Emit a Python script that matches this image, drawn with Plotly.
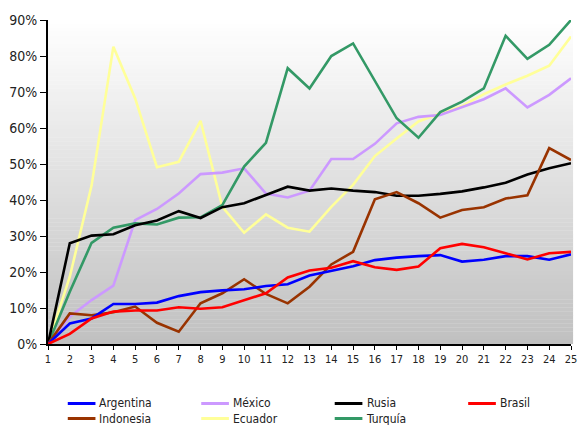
import plotly.graph_objects as go

# Periods on the horizontal axis
periods = list(range(1, 26))

# Series values (share, 0-1)
argentina = [0.0, 0.057, 0.071, 0.111, 0.111, 0.115, 0.133, 0.144, 0.149, 0.152, 0.161, 0.166,
             0.190, 0.202, 0.216, 0.233, 0.240, 0.244, 0.247, 0.229, 0.234, 0.244, 0.244, 0.234, 0.249]
mexico = [0.0, 0.076, 0.122, 0.162, 0.344, 0.375, 0.418, 0.472, 0.476, 0.488, 0.418, 0.407,
          0.426, 0.514, 0.514, 0.556, 0.613, 0.631, 0.636, 0.657, 0.680, 0.710, 0.657, 0.692, 0.738]
rusia = [0.0, 0.280, 0.301, 0.305, 0.330, 0.343, 0.369, 0.350, 0.380, 0.391, 0.414, 0.437,
         0.426, 0.432, 0.426, 0.422, 0.412, 0.412, 0.417, 0.424, 0.435, 0.448, 0.471, 0.488, 0.502]
brasil = [0.0, 0.028, 0.071, 0.090, 0.093, 0.093, 0.102, 0.098, 0.102, 0.122, 0.141, 0.185,
          0.204, 0.212, 0.230, 0.213, 0.206, 0.215, 0.266, 0.278, 0.269, 0.252, 0.235, 0.252, 0.256]
indonesia = [0.0, 0.085, 0.080, 0.088, 0.104, 0.059, 0.034, 0.113, 0.141, 0.180, 0.139, 0.113,
             0.159, 0.221, 0.256, 0.402, 0.422, 0.391, 0.351, 0.372, 0.380, 0.404, 0.413, 0.544, 0.511]
ecuador = [0.0, 0.187, 0.440, 0.826, 0.682, 0.491, 0.506, 0.620, 0.381, 0.309, 0.360, 0.323,
           0.312, 0.381, 0.442, 0.522, 0.571, 0.618, 0.641, 0.661, 0.694, 0.721, 0.745, 0.773, 0.854]
turquia = [0.0, 0.145, 0.281, 0.323, 0.335, 0.332, 0.351, 0.352, 0.386, 0.493, 0.559, 0.766,
           0.710, 0.800, 0.835, 0.729, 0.627, 0.573, 0.644, 0.673, 0.710, 0.856, 0.792, 0.831, 0.900]

y_ticks = [0.0, 0.1, 0.2, 0.3, 0.4, 0.5, 0.6, 0.7, 0.8, 0.9]
y_tick_labels = ["0%", "10%", "20%", "30%", "40%", "50%", "60%", "70%", "80%", "90%"]

series = [
    ("Argentina", argentina, "#0000ff"),
    ("México", mexico, "#cc99ff"),
    ("Rusia", rusia, "#000000"),
    ("Brasil", brasil, "#ff0000"),
    ("Indonesia", indonesia, "#993300"),
    ("Ecuador", ecuador, "#ffff99"),
    ("Turquía", turquia, "#339966"),
]

FONT = "DejaVu Sans Condensed, DejaVu Sans, sans-serif"
TEXT = "#222222"

fig = go.Figure()

# Draw order: lighter / background lines first
draw_order = ["Ecuador", "México", "Turquía", "Rusia", "Indonesia", "Argentina", "Brasil"]
lookup = {name: (vals, col) for name, vals, col in series}
for name in draw_order:
    vals, col = lookup[name]
    fig.add_trace(go.Scatter(
        x=periods, y=vals, mode="lines", name=name,
        line=dict(color=col, width=2.6), showlegend=False,
        hovertemplate="%{x}: %{y:.1%}<extra>" + name + "</extra>",
    ))

shapes = []
# Vertical white-to-grey gradient behind the plot area
n_bands = 80
top_c, bot_c = 255, 192
for i in range(n_bands):
    f = (i + 0.5) / n_bands
    g = round(top_c - (top_c - bot_c) * f)
    shapes.append(dict(
        type="rect", xref="x domain", yref="y domain",
        x0=0, x1=1.004, y0=1 - (i + 1) / n_bands, y1=1 - i / n_bands + 0.001,
        fillcolor=f"rgb({g},{g},{g})", line=dict(width=0), layer="below",
    ))

# Legend: four columns, two rows; each column is one two-line text block
W, H = 581, 425
PX0, PX1, PY0, PY1 = 48, 577, 344, 20  # plot-area pixel frame


def px_x(px):
    return (px - PX0) / (PX1 - PX0)


def px_y(py):
    return (PY0 - py) / (PY0 - PY1)


col_x = [68, 203, 338, 473]
row_y = [403.5, 418.5]
columns = {c: [] for c in range(4)}
for idx, (name, vals, col) in enumerate(series):
    r, c = divmod(idx, 4)
    columns[c].append(name)
    shapes.append(dict(
        type="line", xref="paper", yref="paper",
        x0=px_x(col_x[c]), x1=px_x(col_x[c] + 28),
        y0=px_y(row_y[r]), y1=px_y(row_y[r]),
        line=dict(color=col, width=3),
    ))

annotations = []
for c, names in columns.items():
    annotations.append(dict(
        xref="paper", yref="paper",
        x=px_x(col_x[c] + 31), y=px_y(row_y[0] - 8.5),
        text="<br>".join(names), showarrow=False, align="left",
        xanchor="left", yanchor="top", borderpad=0,
        font=dict(family=FONT, size=12, color=TEXT),
    ))

fig.update_layout(
    width=W, height=H,
    margin=dict(l=PX0, r=W - PX1, t=PY1, b=H - PY0),
    paper_bgcolor="white",
    plot_bgcolor="rgba(0,0,0,0)",
    shapes=shapes,
    annotations=annotations,
    showlegend=False,
    xaxis=dict(
        range=[1, 25], tickmode="array", tickvals=periods,
        ticks="outside", ticklen=4, tickcolor="black", tickwidth=1,
        showline=True, linecolor="black", linewidth=2,
        showgrid=False, zeroline=False,
        tickfont=dict(family=FONT, size=11, color=TEXT),
        ticklabeloverflow="allow",
        fixedrange=True,
    ),
    yaxis=dict(
        range=[0, 0.9], tickmode="array", tickvals=y_ticks, ticktext=y_tick_labels,
        ticks="outside", ticklen=6, tickcolor="black", tickwidth=1,
        showline=True, linecolor="black", linewidth=2,
        showgrid=False, zeroline=False,
        tickfont=dict(family=FONT, size=14, color=TEXT),
        fixedrange=True,
    ),
)

fig.write_html("out.html", include_plotlyjs=True, config={"displayModeBar": False})
